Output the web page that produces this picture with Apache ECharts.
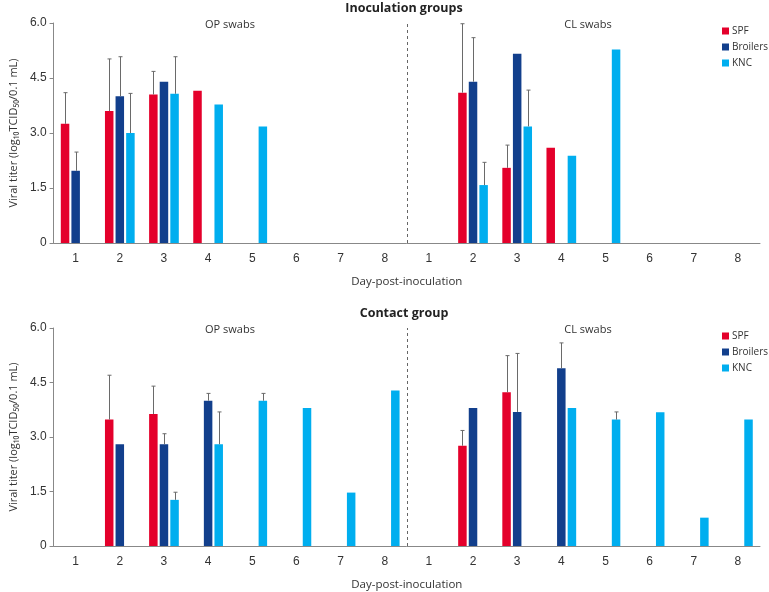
<!DOCTYPE html>
<html><head><meta charset="utf-8">
<script src="https://cdn.jsdelivr.net/npm/echarts@6/dist/echarts.min.js"></script>
<style>html,body{margin:0;padding:0;background:#fff}#c{width:769px;height:592px}</style>
</head><body><div id="c"></div>
<script>
// ---- data ----
const days = ['1','2','3','4','5','6','7','8'];
const swabTypes = ['OP', 'CL'];
const swabTitles = ['OP swabs', 'CL swabs'];
const seriesNames = ['SPF', 'Broilers', 'KNC'];
const panelTitles = ['Inoculation groups', 'Contact group'];

// Inoculation groups (OP days 1-8, then CL days 1-8)
const inocSPF      = [3.25, 3.6, 4.05, 4.15, null, null, null, null,   null, 4.1, 2.05, 2.6, null, null, null, null];
const inocSPFErr   = [4.1,  5.02, 4.68, null, null, null, null, null,  null, 5.98, 2.67, null, null, null, null, null];
const inocBro      = [1.97, 4.0, 4.4, null, null, null, null, null,    null, 4.4, 5.16, null, null, null, null, null];
const inocBroErr   = [2.48, 5.08, null, null, null, null, null, null,  null, 5.6, null, null, null, null, null, null];
const inocKNC      = [null, 3.0, 4.07, 3.78, 3.18, null, null, null,   null, 1.58, 3.18, 2.38, 5.28, null, null, null];
const inocKNCErr   = [null, 4.08, 5.08, null, null, null, null, null,  null, 2.2, 4.17, null, null, null, null, null];

// Contact group
const contSPF      = [null, 3.48, 3.63, null, null, null, null, null,  null, 2.76, 4.23, null, null, null, null, null];
const contSPFErr   = [null, 4.7, 4.4, null, null, null, null, null,    null, 3.18, 5.24, null, null, null, null, null];
const contBro      = [null, 2.8, 2.8, 4.0, null, null, null, null,     null, 3.8, 3.69, 4.89, null, null, null, null];
const contBroErr   = [null, null, 3.09, 4.2, null, null, null, null,   null, null, 5.3, 5.59, null, null, null, null];
const contKNC      = [null, null, 1.27, 2.8, 4.0, 3.8, 1.47, 4.28,     null, null, null, 3.8, 3.48, 3.68, 0.78, 3.48];
const contKNCErr   = [null, null, 1.48, 3.69, 4.2, null, null, null,   null, null, null, null, 3.69, null, null, null];

// ---- build ----
const categories = [];
swabTypes.forEach(s => days.forEach(d => categories.push(s + '-' + d)));
const colors = ['#E4002B', '#123F8C', '#00AEEF'];
const barW = 8.5, gapPx = 2.1;
const panels = [
  {vals: [inocSPF, inocBro, inocKNC], errs: [inocSPFErr, inocBroErr, inocKNCErr]},
  {vals: [contSPF, contBro, contKNC], errs: [contSPFErr, contBroErr, contKNCErr]}
];
const gridTops = [23, 328];
const gridH = 220;
const font = '"Open Sans", "Noto Sans", sans-serif';
const tickFont = '"Liberation Sans", Arial, sans-serif';

const grids = [], xAxes = [], yAxes = [], series = [], titles = [], legends = [];
gridTops.forEach((top, p) => {
  grids.push({left: 47, right: 9, top: top, height: gridH});
  xAxes.push({
    type: 'category', gridIndex: p, data: categories,
    name: 'Day-post-inoculation', nameLocation: 'middle', nameGap: 33,
    nameTextStyle: {fontSize: 11.5, color: '#333', fontFamily: font},
    axisLine: {lineStyle: {color: '#888', width: 1}},
    axisTick: {alignWithLabel: true, length: 4, lineStyle: {color: '#888'}},
    axisLabel: {color: '#333', fontSize: 12, fontFamily: tickFont, margin: 10,
      formatter: v => v.split('-')[1]},
    splitLine: {show: false}
  });
  yAxes.push({
    type: 'value', gridIndex: p, min: 0, max: 6, interval: 1.5,
    name: 'Viral titer (log\u2081\u2080TCID\u2085\u2080/0.1 mL)', nameLocation: 'middle', nameGap: 34,
    nameTextStyle: {fontSize: 11, color: '#333', fontFamily: font},
    axisLine: {show: true, lineStyle: {color: '#888'}},
    axisTick: {show: true, length: 4, lineStyle: {color: '#888'}},
    axisLabel: {color: '#333', fontSize: 12, fontFamily: tickFont, margin: 7,
      formatter: v => v === 0 ? '0' : v.toFixed(1)},
    splitLine: {show: false}
  });
  titles.push({text: panelTitles[p], left: 404, textAlign: 'center', top: top - 21, padding: 0,
    textStyle: {fontSize: 12.5, fontWeight: 'bold', color: '#222', fontFamily: font}});
  titles.push({text: swabTitles[0], left: 225, textAlign: 'center', top: top - 9,
    textStyle: {fontSize: 11, fontWeight: 'normal', color: '#333', fontFamily: font}});
  titles.push({text: swabTitles[1], left: 583, textAlign: 'center', top: top - 9,
    textStyle: {fontSize: 11, fontWeight: 'normal', color: '#333', fontFamily: font}});
  legends.push({orient: 'vertical', left: 722, top: top + 3, itemWidth: 7, itemHeight: 7,
    itemGap: 6, icon: 'rect', data: seriesNames, padding: 0,
    textStyle: {fontSize: 10, color: '#333', fontFamily: font, overflow: 'none', width: 60,
      padding: [0, 0, 0, -2]}});
  seriesNames.forEach((name, i) => {
    series.push({
      type: 'bar', name: name, xAxisIndex: p, yAxisIndex: p,
      data: panels[p].vals[i], barWidth: barW, barGap: (gapPx / barW * 100) + '%',
      itemStyle: {color: colors[i]}, silent: true, z: 2
    });
  });
  seriesNames.forEach((name, i) => {
    const vals = panels[p].vals[i], errs = panels[p].errs[i];
    const errData = [];
    errs.forEach((e, k) => { if (e != null && vals[k] != null) errData.push([k, vals[k], e]); });
    const off = (i - 1) * (barW + gapPx);
    series.push({
      type: 'custom', name: name, xAxisIndex: p, yAxisIndex: p, z: 3, silent: true,
      data: errData,
      encode: {x: 0, y: [1, 2]},
      renderItem: (params, api) => {
        const b = api.coord([api.value(0), api.value(1)]);
        const t = api.coord([api.value(0), api.value(2)]);
        const x = Math.round(b[0] + off) + 0.5;
        return {type: 'group', children: [
          {type: 'line', shape: {x1: x, y1: b[1], x2: x, y2: t[1]}, style: {stroke: '#6a6a6a', lineWidth: 1}},
          {type: 'line', shape: {x1: x - 2, y1: t[1], x2: x + 2, y2: t[1]}, style: {stroke: '#6a6a6a', lineWidth: 1}}
        ]};
      }
    });
  });
});
// hidden value axes spanning the category bands, used for the OP/CL separator
gridTops.forEach((top, p) => {
  xAxes.push({type: 'value', gridIndex: p, min: 0, max: categories.length, show: false});
  series.push({
    type: 'line', xAxisIndex: 2 + p, yAxisIndex: p, data: [], silent: true,
    markLine: {silent: true, symbol: 'none', label: {show: false},
      lineStyle: {color: '#666', type: [3, 3], width: 1},
      data: [{xAxis: days.length}]}
  });
});

const chart = echarts.init(document.getElementById('c'), null, {renderer: 'canvas'});
chart.setOption({
  animation: false, backgroundColor: '#fff', color: colors,
  title: titles, legend: legends, grid: grids, xAxis: xAxes, yAxis: yAxes, series: series
});
</script></body></html>
